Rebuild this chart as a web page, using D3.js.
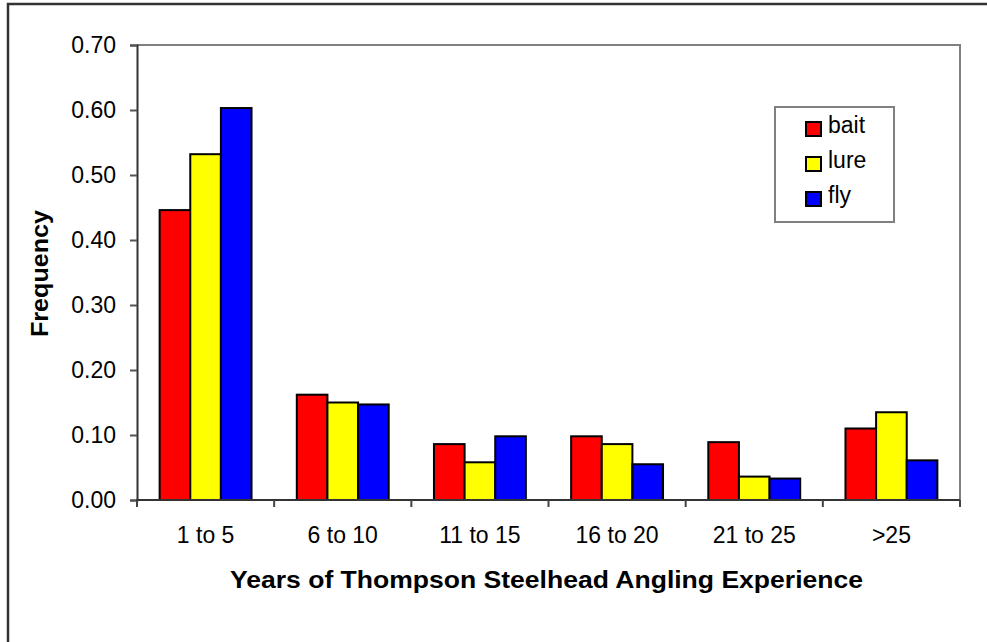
<!DOCTYPE html>
<html>
<head>
<meta charset="utf-8">
<script src="https://cdn.jsdelivr.net/npm/d3@7"></script>
<style>
  body { margin: 0; background: #fff; }
  svg { display: block; font-family: Arial, "Liberation Sans", sans-serif; }
</style>
</head>
<body>
<svg width="987" height="642"></svg>
<script>
// data
var categories = ["1 to 5", "6 to 10", "11 to 15", "16 to 20", "21 to 25", ">25"];
var series = ["bait", "lure", "fly"];
var bait = [0.446, 0.162, 0.086, 0.098, 0.089, 0.110];
var lure = [0.532, 0.150, 0.058, 0.086, 0.036, 0.135];
var fly  = [0.603, 0.147, 0.098, 0.055, 0.033, 0.061];
var colors = ["#ff0000", "#ffff00", "#0000ff"];
var yTicks = [0, 0.1, 0.2, 0.3, 0.4, 0.5, 0.6, 0.7];

var values = [bait, lure, fly];
var rows = categories.map(function(c, i) {
  return { cat: c, vals: series.map(function(s, j) { return { key: s, v: values[j][i] }; }) };
});

var svg = d3.select("svg");

// outer chart frame (runs off the right and bottom of the picture)
svg.append("rect")
  .attr("x", 8).attr("y", 4)
  .attr("width", 1000).attr("height", 700)
  .attr("fill", "none").attr("stroke", "#333").attr("stroke-width", 2.5);

var plot = { left: 137, right: 960, top: 45, bottom: 500 };

var x0 = d3.scaleBand().domain(categories).range([plot.left, plot.right]);
var gap = x0.step() * 0.33;
var x1 = d3.scaleBand().domain(series).range([gap / 2, x0.step() - gap / 2]);
var y = d3.scaleLinear().domain([0, 0.7]).range([plot.bottom, plot.top]);

// plot border (top and right in grey)
svg.append("path")
  .attr("d", "M" + plot.left + "," + plot.top + "H" + plot.right + "V" + plot.bottom)
  .attr("fill", "none").attr("stroke", "#808080").attr("stroke-width", 2);

// bars
var g = svg.selectAll("g.grp").data(rows).enter().append("g")
  .attr("class", "grp")
  .attr("transform", function(d) { return "translate(" + x0(d.cat) + ",0)"; });

g.selectAll("rect").data(function(d) { return d.vals; }).enter().append("rect")
  .attr("x", function(d) { return x1(d.key); })
  .attr("y", function(d) { return y(d.v); })
  .attr("width", x1.bandwidth())
  .attr("height", function(d) { return y(0) - y(d.v); })
  .attr("fill", function(d, i) { return colors[i]; })
  .attr("stroke", "#000").attr("stroke-width", 2);

// y axis
var yAxis = svg.append("g")
  .attr("transform", "translate(" + plot.left + ",0)")
  .call(d3.axisLeft(y).tickValues(yTicks).tickFormat(d3.format(".2f")).tickSize(7).tickPadding(14));

// x axis
var xAxis = svg.append("g")
  .attr("transform", "translate(0," + plot.bottom + ")")
  .call(d3.axisBottom(x0).tickSize(0).tickPadding(27));

// x ticks sit on the category boundaries
var bounds = categories.map(function(c) { return x0(c); }).concat([plot.right]);
xAxis.selectAll("line.bound").data(bounds).enter().append("line")
  .attr("class", "bound")
  .attr("x1", function(d) { return d; }).attr("x2", function(d) { return d; })
  .attr("y1", 0).attr("y2", 7)
  .attr("stroke", "#444").attr("stroke-width", 2);

[yAxis, xAxis].forEach(function(a) {
  a.select(".domain").attr("stroke", "#333").attr("stroke-width", 2);
  a.selectAll(".tick line").attr("stroke", "#555").attr("stroke-width", 2);
  a.selectAll("text").attr("font-size", 23).attr("fill", "#000")
    .attr("font-family", "Arial, 'Liberation Sans', sans-serif");
});
xAxis.select(".domain").attr("d", "M" + (plot.left - 1) + ",0H" + plot.right);

// axis titles
svg.append("text")
  .attr("x", 230).attr("y", 588)
  .attr("textLength", 633).attr("lengthAdjust", "spacingAndGlyphs")
  .attr("font-size", 24).attr("font-weight", "bold")
  .text("Years of Thompson Steelhead Angling Experience");

svg.append("text")
  .attr("transform", "translate(48,337) rotate(-90)")
  .attr("textLength", 127).attr("lengthAdjust", "spacingAndGlyphs")
  .attr("font-size", 23).attr("font-weight", "bold")
  .text("Frequency");

// legend
var leg = svg.append("g").attr("transform", "translate(775,107)");
leg.append("rect")
  .attr("width", 119).attr("height", 115)
  .attr("fill", "#fff").attr("stroke", "#808080").attr("stroke-width", 2);

var item = leg.selectAll("g.item").data(series).enter().append("g")
  .attr("class", "item")
  .attr("transform", function(d, i) { return "translate(31," + (15 + i * 35) + ")"; });
item.append("rect")
  .attr("width", 15).attr("height", 14)
  .attr("fill", function(d, i) { return colors[i]; })
  .attr("stroke", "#000").attr("stroke-width", 2);
item.append("text")
  .attr("x", 22).attr("y", 11)
  .attr("font-size", 23)
  .text(function(d) { return d; });
</script>
</body>
</html>
